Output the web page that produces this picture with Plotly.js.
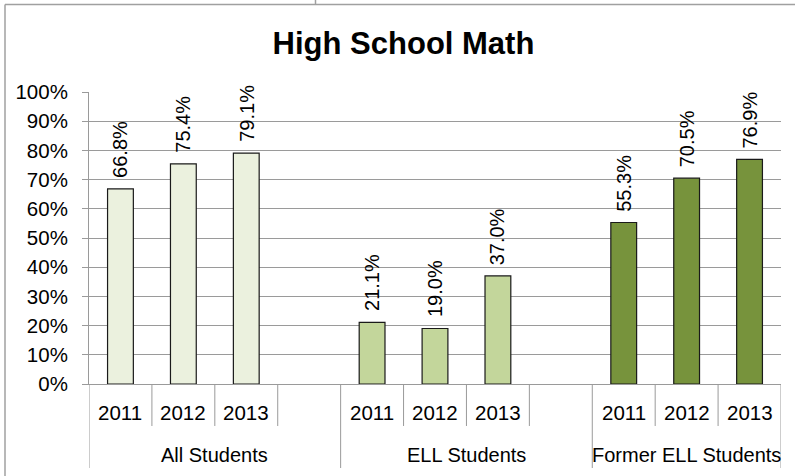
<!DOCTYPE html>
<html>
<head>
<meta charset="utf-8">
<script src="https://cdn.plot.ly/plotly-3.0.1.min.js"></script>
<style>
  html, body { margin: 0; padding: 0; background: #ffffff; }
  #chart { width: 795px; height: 476px; }
</style>
</head>
<body>
<div id="chart"></div>
<script>
// ---- Data ----
const chartTitle = "High School Math";
const groups = ["All Students", "ELL Students", "Former ELL Students"];
const years = ["2011", "2012", "2013"];
const allStudents = [66.8, 75.4, 79.1];
const ellStudents = [21.1, 19.0, 37.0];
const formerEllStudents = [55.3, 70.5, 76.9];
const yTicks = [0, 10, 20, 30, 40, 50, 60, 70, 80, 90, 100];

const seriesValues = [allStudents, ellStudents, formerEllStudents];
const barColors = ["#ebf1de", "#c3d69b", "#77933c"];

// ---- Layout helpers ----
const FONT = "Liberation Sans, Arial, sans-serif";
const gridColor = "#9a9a9a";
// Each group takes years.length slots plus an empty one (except the last group)
const groupStart = [];
let pos = 0;
groups.forEach((g, i) => {
  groupStart.push(pos);
  pos += years.length + (i < groups.length - 1 ? 1 : 0);
});
const totalSlots = pos;

const traces = [];
const annotations = [];
const shapes = [];

groups.forEach((g, gi) => {
  const xs = years.map((y, j) => groupStart[gi] + j);
  traces.push({
    type: "bar",
    x: xs,
    y: seriesValues[gi],
    width: 0.41,
    marker: { color: barColors[gi], line: { color: "#1a1a1a", width: 1.2 } },
    hoverinfo: "skip",
    showlegend: false
  });
  // data labels
  xs.forEach((x, j) => {
    annotations.push({
      x: x, y: seriesValues[gi][j], xref: "x", yref: "y",
      text: seriesValues[gi][j].toFixed(1) + "%",
      textangle: -90, showarrow: false,
      xanchor: "center", yanchor: "bottom", yshift: 9,
      font: { family: FONT, size: 20, color: "#000" }
    });
    // year labels
    annotations.push({
      x: x, y: -0.0976, xref: "x", yref: "paper",
      text: years[j], showarrow: false,
      xanchor: "center", yanchor: "middle",
      font: { family: FONT, size: 20.5, color: "#000" }
    });
  });
  const gEnd = gi < groups.length - 1 ? groupStart[gi + 1] : totalSlots;
  // group label
  annotations.push({
    x: (groupStart[gi] - 0.5 + gEnd - 0.5) / 2, y: -0.243, xref: "x", yref: "paper",
    text: g, showarrow: false, xanchor: "center", yanchor: "middle",
    font: { family: FONT, size: 20, color: "#000" }
  });
  // short dividers between slots
  for (let s = groupStart[gi] + 1; s < gEnd; s++) {
    shapes.push({ type: "line", xref: "x", yref: "paper",
      x0: s - 0.5, x1: s - 0.5, y0: 0, y1: -0.1438,
      line: { color: gridColor, width: 1 } });
  }
  // long dividers at group boundaries
  shapes.push({ type: "line", xref: "x", yref: "paper",
    x0: groupStart[gi] - 0.5, x1: groupStart[gi] - 0.5, y0: 0, y1: -0.2877,
    line: { color: gridColor, width: 1 } });
  if (gi === groups.length - 1) {
    shapes.push({ type: "line", xref: "x", yref: "paper",
      x0: gEnd - 0.5, x1: gEnd - 0.5, y0: 0, y1: -0.2877,
      line: { color: gridColor, width: 1 } });
  }
});

// outer chart frame (top and left) and small stub at top
const plotL = 89, plotT = 92, plotW = 692, plotH = 292;
const px = v => (v - plotL) / plotW;
const py = v => (plotT + plotH - v) / plotH;
shapes.push({ type: "line", xref: "paper", yref: "paper",
  x0: px(5), x1: px(795), y0: py(4.5), y1: py(4.5), line: { color: "#a0a0a0", width: 1.5 } });
shapes.push({ type: "line", xref: "paper", yref: "paper",
  x0: px(5), x1: px(5), y0: py(4.5), y1: py(476), line: { color: "#a0a0a0", width: 1.5 } });
shapes.push({ type: "line", xref: "paper", yref: "paper",
  x0: px(315.5), x1: px(315.5), y0: py(0), y1: py(4.5), line: { color: "#a0a0a0", width: 1.5 } });

const layout = {
  width: 795, height: 476,
  margin: { l: plotL, r: 795 - plotL - plotW, t: plotT, b: 476 - plotT - plotH, pad: 0 },
  paper_bgcolor: "#ffffff", plot_bgcolor: "#ffffff",
  title: {
    text: "<b>" + chartTitle + "</b>",
    font: { family: FONT, size: 31, color: "#000" },
    x: 403.5 / 795, xanchor: "center", xref: "container",
    y: 1 - 43 / 476, yanchor: "middle", yref: "container"
  },
  showlegend: false,
  bargap: 0,
  xaxis: {
    range: [-0.5, totalSlots - 0.5],
    showgrid: false, zeroline: false,
    showticklabels: false, ticks: "",
    showline: true, linecolor: gridColor, linewidth: 1,
    fixedrange: true
  },
  yaxis: {
    range: [0, 100],
    tickvals: yTicks,
    ticktext: yTicks.map(v => v + "%"),
    tickfont: { family: FONT, size: 20.5, color: "#000" },
    ticks: "outside", ticklen: 6, tickcolor: gridColor, tickwidth: 1,
    ticklabelstandoff: 10,
    showgrid: true, gridcolor: gridColor, gridwidth: 1,
    zeroline: false,
    showline: true, linecolor: gridColor, linewidth: 1,
    fixedrange: true
  },
  annotations: annotations,
  shapes: shapes
};

Plotly.newPlot("chart", traces, layout, { staticPlot: true, displayModeBar: false });
</script>
</body>
</html>
